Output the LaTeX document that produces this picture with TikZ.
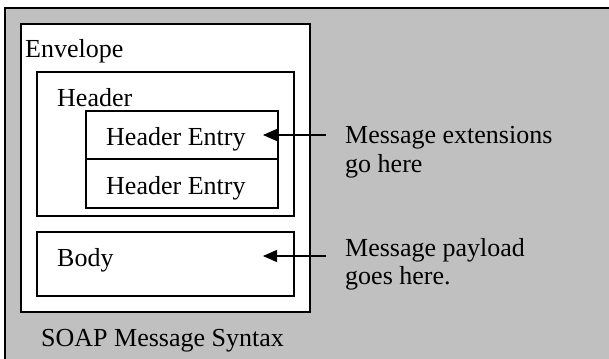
\documentclass[tikz,border=0pt]{standalone}
\usepackage{fontspec}
\setmainfont{Liberation Serif}
\usetikzlibrary{arrows.meta}
\definecolor{panelgray}{RGB}{192,192,192}
\tikzset{
  box/.style={draw=black, line width=1.3pt, fill=white},
  lbl/.style={anchor=base west, inner sep=0pt, font=\fontsize{26}{29}\selectfont},
  pointer/.style={line width=1.3pt, -{Triangle[length=14pt,width=12pt]}},
}
\begin{document}
\begin{tikzpicture}[x=1pt,y=-1pt]
\useasboundingbox (0,0) rectangle (609,358);
\begin{scope}
\clip (0,0) rectangle (609,358);
\fill[panelgray] (5,8) rectangle (612,362);
\draw[line width=1.8pt] (5,362) -- (5,8) -- (612,8);
\end{scope}
% envelope
\draw[box] (21,24) rectangle (310,312);
\node[lbl] (env) at (25,58) {Envelope};
% header
\draw[box] (37,72) rectangle (294,216);
\node[lbl] (hdr) at (57,107) {Header};
% header entries
\draw[box] (86,111) rectangle (278,208);
\draw[line width=1.3pt] (86,159) -- (278,159);
\node[lbl] (he1) at (106,146) {Header Entry};
\node[lbl] (he2) at (106,194) {Header Entry};
\coordinate (he1tip) at (263,135);
% body
\draw[box] (37,232) rectangle (294,296);
\node[lbl] (body) at (57,266) {Body};
\coordinate (bodytip) at (263,256);
% caption
\node[lbl] (cap) at (41,346) {SOAP Message Syntax};
% notes
\node[lbl] (n1) at (345,143) {Message extensions};
\node[lbl] (n1b) at (345,172) {go here};
\node[lbl] (n2) at (345,256) {Message payload};
\node[lbl] (n2b) at (345,284) {goes here.};
\coordinate (n1s) at (326,135);
\coordinate (n2s) at (326,256);
\draw[pointer] (n1s) -- (he1tip);
\draw[pointer] (n2s) -- (bodytip);
\end{tikzpicture}
\end{document}
